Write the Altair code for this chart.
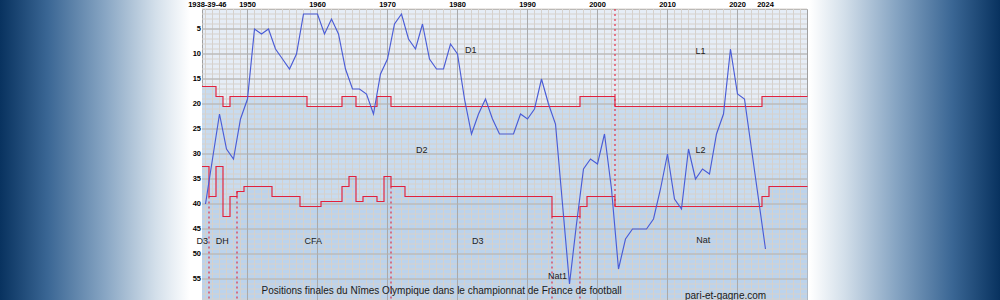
import altair as alt
import pandas as pd

# ---------------- data ----------------
# season end-year -> final overall position (D1 places first, then D2, then third tier)
SEASONS = [1938] + list(range(1946, 2025))
POSITIONS = [40,
             22, 29, 31, 23, 19,
             5, 6, 5, 9, 11, 13, 10, 2, 2, 2,
             6, 3, 6, 13, 17, 17, 18, 22, 14, 11,
             4, 2, 7, 9, 4, 11, 13, 13, 8, 10,
             19, 26, 22, 19, 23, 26, 26, 26, 22, 23,
             21, 15, 20, 24, 40, 56, 44, 33, 31, 32,
             26, 37, 53, 47, 45, 45, 45, 43, 37, 30,
             39, 41, 29, 35, 33, 34, 26, 22, 9, 18,
             19, 29, 39, 49]

# division boundaries: start of each step (axis position) and level
UP_START = [1943.5, 1945.5, 1946.5, 1947.5, 1958.5, 1963.5, 1965.5, 1968.5, 1970.5, 1997.5, 2002.5, 2023.5, 2030]
UP_LEVEL = [16.5, 18.5, 20.5, 18.5, 20.5, 18.5, 20.5, 18.5, 20.5, 18.5, 20.5, 18.5, 18.5]
LO_START = [1943.5, 1944.5, 1945.5, 1946.5, 1947.5, 1948.5, 1949.5, 1953.5, 1957.5, 1960.5, 1963.5,
            1964.5, 1965.5, 1966.5, 1968.5, 1969.5, 1970.5, 1972.5, 1993.5, 1997.5, 1998.5,
            2002.5, 2023.5, 2024.5, 2030]
LO_LEVEL = [32.5, 38.5, 32.5, 42.5, 38.5, 37.5, 36.5, 38.5, 40.5, 39.5, 36.5,
            34.5, 39.5, 38.5, 39.5, 34.5, 36.5, 38.5, 42.5, 40.5, 38.5,
            40.5, 38.5, 36.5, 36.5]

# dotted separators (tier renaming)
SEP_X = [1944.5, 1948.5, 1970.5, 1993.5, 1997.5, 2002.5]
SEP_TOP = [38.5, 37.5, 36.5, 42.5, 42.5, 1]
SEP_BOT = [59.2, 59.2, 59.2, 59.2, 59.2, 40.5]

# division names
DIV_NAMES = ["D1", "D2", "D3", "Nat1", "L1", "L2", "Nat", "CFA", "DH", "D3"]
DIV_X = [1981.9, 1974.9, 1982.9, 1994.3, 2014.7, 2014.7, 2015.1, 1959.4, 1946.4, 1943.55]
DIV_Y = [9.2, 29.2, 47.3, 54.3, 9.3, 29.2, 47.1, 47.3, 47.3, 47.3]

# tick labels
X_TICK_POS = [1944.26, 1950, 1960, 1970, 1980, 1990, 2000, 2010, 2020, 2024]
X_TICK_TXT = ["1938-39-46", "1950", "1960", "1970", "1980", "1990", "2000", "2010", "2020", "2024"]
Y_TICKS = [5, 10, 15, 20, 25, 30, 35, 40, 45, 50, 55]

TITLE = "Positions finales du Nîmes Olympique dans le championnat de France de football"
SITE = "pari-et-gagne.com"

# ---------------- tables ----------------
def axis_pos(y):
    return {1938: 1944, 1939: 1945}.get(y, y)

blue = pd.DataFrame({"x": [axis_pos(s) for s in SEASONS], "p": POSITIONS, "season": SEASONS})
up_df = pd.DataFrame({"x": UP_START, "v": UP_LEVEL})
lo_df = pd.DataFrame({"x": LO_START, "v": LO_LEVEL, "b": [59.2] * len(LO_START)})
all_x = sorted(set(UP_START) | set(LO_START))

def level_at(starts, levels, x):
    val = levels[0]
    for s, l in zip(starts, levels):
        if s <= x:
            val = l
    return val

band = pd.DataFrame({"x": all_x,
                     "up": [level_at(UP_START, UP_LEVEL, x) for x in all_x],
                     "lo": [level_at(LO_START, LO_LEVEL, x) for x in all_x]})
sep = pd.DataFrame({"x": SEP_X, "t": SEP_TOP, "b": SEP_BOT})
divs = pd.DataFrame({"name": DIV_NAMES, "x": DIV_X, "y": DIV_Y})
xt = pd.DataFrame({"x": X_TICK_POS, "t": X_TICK_TXT})
yt = pd.DataFrame({"v": Y_TICKS})
minor_x = pd.DataFrame({"x": list(range(1944, 2030))})
major_x = pd.DataFrame({"x": list(range(1950, 2030, 10))})
minor_y = pd.DataFrame({"y": list(range(1, 60))})
major_y = pd.DataFrame({"y": Y_TICKS})
notes = pd.DataFrame({"t": [TITLE, SITE], "x": [1952.0, 2012.5], "y": [57.4, 58.3]})
one = pd.DataFrame({"a": [0]})

XS = alt.Scale(domain=[1943.5, 2029.93], nice=False, zero=False)
YS = alt.Scale(domain=[1, 59.2], reverse=True, nice=False, zero=False)

def X(f):
    return alt.X(f, type="quantitative", scale=XS, axis=None)

def Y(f):
    return alt.Y(f, type="quantitative", scale=YS, axis=None)

# ---------------- layers ----------------
grad_left = alt.Gradient(gradient="linear", x1=0, x2=1, y1=0, y2=0, stops=[
    alt.GradientStop(color="#08325f", offset=0),
    alt.GradientStop(color="#3a6694", offset=0.25),
    alt.GradientStop(color="#87a5c3", offset=0.55),
    alt.GradientStop(color="#d3dfea", offset=0.82),
    alt.GradientStop(color="#ffffff", offset=1)])
grad_right = alt.Gradient(gradient="linear", x1=0, x2=1, y1=0, y2=0, stops=[
    alt.GradientStop(color="#ffffff", offset=0),
    alt.GradientStop(color="#d3dfea", offset=0.18),
    alt.GradientStop(color="#87a5c3", offset=0.45),
    alt.GradientStop(color="#3a6694", offset=0.75),
    alt.GradientStop(color="#08325f", offset=1)])

bg_left = alt.Chart(one).mark_rect(color=grad_left).encode(
    x=alt.value(-202), x2=alt.value(-12), y=alt.value(-9), y2=alt.value(291))
bg_right = alt.Chart(one).mark_rect(color=grad_right).encode(
    x=alt.value(608), x2=alt.value(798), y=alt.value(-9), y2=alt.value(291))

mid_area = alt.Chart(band).mark_area(interpolate="step-after", color="#c8dbef").encode(
    x=X("x"), y=Y("up"), y2=alt.Y2("lo"))
low_area = alt.Chart(lo_df).mark_area(interpolate="step-after", color="#bcd3ec").encode(
    x=X("x"), y=Y("v"), y2=alt.Y2("b"))

g_minor_x = alt.Chart(minor_x).mark_rule(color="#d6d1cc", strokeWidth=1).encode(x=X("x"))
g_minor_y = alt.Chart(minor_y).mark_rule(color="#d6d1cc", strokeWidth=1).encode(y=Y("y"))
g_major_x = alt.Chart(major_x).mark_rule(color="#a9a9a9", strokeWidth=1).encode(x=X("x"))
g_major_y = alt.Chart(major_y).mark_rule(color="#b0b0b0", strokeWidth=1).encode(y=Y("y"))

red_up = alt.Chart(up_df).mark_line(interpolate="step-after", color="#e3203b", strokeWidth=1.15).encode(
    x=X("x"), y=Y("v"))
red_lo = alt.Chart(lo_df).mark_line(interpolate="step-after", color="#e3203b", strokeWidth=1.15).encode(
    x=X("x"), y=Y("v"))
seps = alt.Chart(sep).mark_rule(color="#e3203b", strokeWidth=1.1, strokeDash=[2, 3]).encode(
    x=X("x"), y=Y("t"), y2=alt.Y2("b"))

blue_line = alt.Chart(blue).mark_line(color="#4a5cd6", strokeWidth=1.15).encode(
    x=X("x"), y=Y("p"), order="x:Q")

div_txt = alt.Chart(divs).mark_text(font="Liberation Sans", fontSize=9, color="#222222",
                                    align="center", baseline="middle").encode(
    x=X("x"), y=Y("y"), text="name:N")

x_lab = alt.Chart(xt).mark_text(font="Liberation Sans", fontSize=7.5, fontWeight="bold",
                                color="#000000", align="center", baseline="middle").encode(
    x=X("x"), y=alt.value(-4.3), text="t:N")
y_lab = alt.Chart(yt).mark_text(font="Liberation Sans", fontSize=7.5, fontWeight="bold",
                                color="#000000", align="right", baseline="middle").encode(
    x=alt.value(-1), y=Y("v"), text="v:Q")

note_txt = alt.Chart(notes).mark_text(font="Liberation Sans", fontSize=10, color="#1a1a1a",
                                      align="left", baseline="middle").encode(
    x=X("x"), y=Y("y"), text="t:N")

chart = alt.layer(
    bg_left, bg_right, mid_area, low_area,
    g_minor_x, g_minor_y, g_major_x, g_major_y,
    red_up, red_lo, seps, blue_line, div_txt, note_txt, x_lab, y_lab
).properties(
    width=605, height=291,
    padding={"left": 202, "top": 9, "right": 193, "bottom": 0},
    autosize=alt.AutoSizeParams(type="none"),
    background="#ffffff"
).configure_view(
    fill="#e6edf6", stroke="#a0a0a0", strokeWidth=1
)

chart.save("out.html", embed_options={"renderer": "svg", "actions": False})
